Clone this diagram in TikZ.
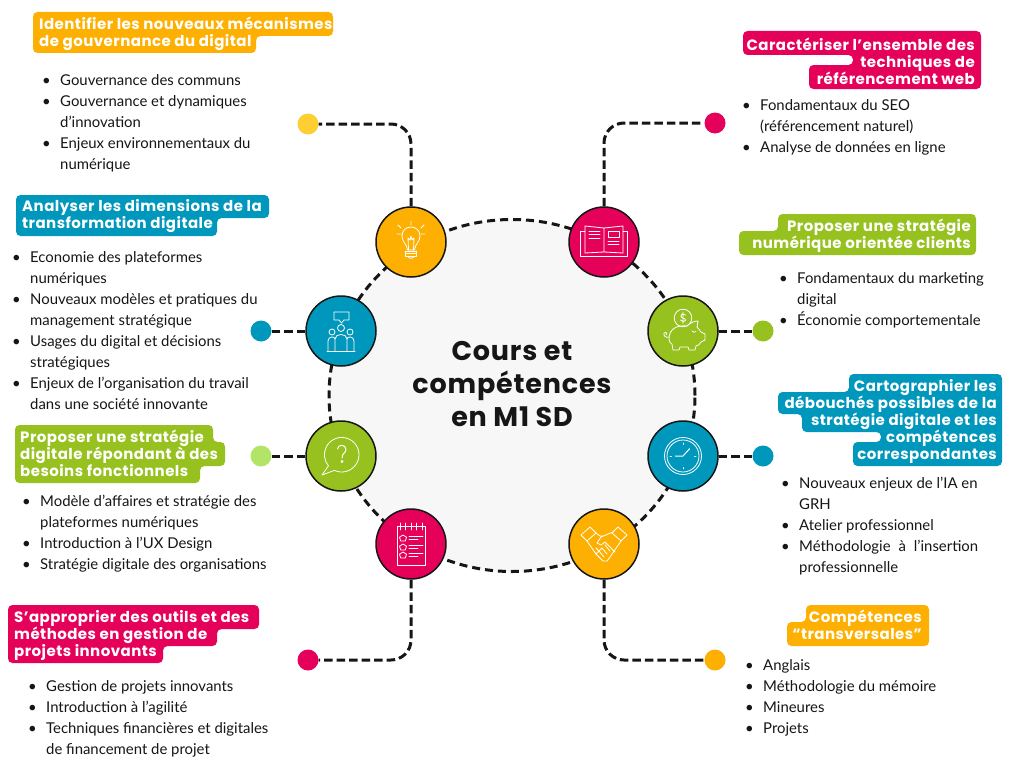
\documentclass[tikz,border=0pt]{standalone}
\usepackage{fontspec}
\setmainfont{Lato}
\newfontfamily\titrefont[LetterSpace=3]{Poppins}
\usetikzlibrary{arrows.meta,positioning,shapes.geometric,calc}
\definecolor{rose}{HTML}{E5005A}
\definecolor{jaune}{HTML}{FDB001}
\definecolor{bleu}{HTML}{0097BC}
\definecolor{vert}{HTML}{96C11F}
\definecolor{jauneclair}{HTML}{FFCE32}
\definecolor{vertclair}{HTML}{B2E468}
\definecolor{encre}{HTML}{161616}
\newcommand{\puce}{\llap{\textbullet\hspace{9.5pt}}}
\tikzset{
  ico/.style={draw=white, line width=0.8pt, fill=none, line join=round, line cap=round},
  ampoule/.pic={
    \draw[ico] (-3.5,8) .. controls (-4,2) and (-9,0) .. (-9,-6) .. controls (-9,-18) and (9,-18) .. (9,-6) .. controls (9,0) and (4,2) .. (3.5,8) -- cycle;
    \draw[ico] (-2.5,8) -- (-3,-4) -- (-1,-2) -- (0,-6) -- (1,-2) -- (3,-4) -- (2.5,8);
    \foreach \y in {9,11.5,14} \draw[ico] (-5.5,\y) -- (5.5,\y);
    \draw[ico] (-5.5,9) -- (-5.5,14) (5.5,9) -- (5.5,14) (-3,14) .. controls (-3,17) and (3,17) .. (3,14);
    \draw[ico] (0,-21) -- (0,-17) (-10,-14) -- (-13,-17) (10,-14) -- (13,-17) (-14,-8) -- (-10,-8) (14,-8) -- (10,-8);
  },
  equipe/.pic={
    \draw[ico] (-7,-19) -- (8,-19) -- (8,-11) -- (3,-11) -- (0.5,-8) -- (-2,-11) -- (-7,-11) -- cycle;
    \draw[ico] (0,-3) circle[radius=3.5] (-9,1) circle[radius=3] (9,1) circle[radius=3];
    \draw[ico] (-6,20) -- (-6,8) .. controls (-6,2) and (6,2) .. (6,8) -- (6,20);
    \draw[ico] (-13,20) -- (-13,10) .. controls (-13,5) and (-6,5) .. (-6,8) (13,20) -- (13,10) .. controls (13,5) and (6,5) .. (6,8);
    \draw[ico] (-14,20) -- (14,20);
  },
  question/.pic={
    \draw[ico] (-6.6,14.4) arc[start angle=115, end angle=-220, radius=17.3] -- (-19,19) -- cycle;
    \draw[ico, line width=1pt] (-3.5,-7) .. controls (-3.5,-12) and (5,-12) .. (5,-6.5) .. controls (5,-3) and (1,-3) .. (1,2);
    \draw[ico, line width=1pt] (1,5.5) circle[radius=1];
  },
  carnet/.pic={
    \draw[ico] (-14,-18) rectangle (14,21);
    \foreach \x in {-11,-6,0,5,11} \draw[ico] (\x,-21) -- (\x,-14);
    \foreach \y in {-6,3,11} {
      \draw[ico] (-8,\y-3) -- (-4.5,\y-0.8) -- (-5.7,\y+3) -- (-10.3,\y+3) -- (-11.5,\y-0.8) -- cycle;
      \draw[ico] (-2,\y-1.5) -- (12,\y-1.5);
      \draw[ico] (-2,\y+1.5) -- (7,\y+1.5);
    }
  },
  livre/.pic={
    \draw[ico] (-19,-11) -- (-24,-11) -- (-24,14) -- (23.5,14) -- (23.5,-11) -- (19,-11);
    \draw[ico] (0,10) -- (0,-14) -- (-19,-16) -- (-19,11) -- (0,10) -- (19,11) -- (19,-16) -- (0,-14);
    \foreach \y in {-11,-7.5,-4} \draw[ico] (-15,\y) -- (-4,\y);
    \draw[ico] (4,-11) rectangle (15,-4.5);
    \foreach \y in {-1,2} \draw[ico] (4,\y) -- (15,\y);
  },
  cochon/.pic={
    \draw[ico] (0,-13) circle[radius=8.8];
    \draw[ico] (2.5,-16) .. controls (1,-18) and (-2.5,-17) .. (-2,-14.5) .. controls (-1.5,-12.5) and (3,-13) .. (2.5,-10.5) .. controls (2,-9) and (-1.5,-9) .. (-2.5,-11) (0,-19) -- (0,-7.5);
    \draw[ico] (-14,8) .. controls (-14,-3) and (-5,-6) .. (4,-5) .. controls (7,-8) and (11,-10) .. (15,-10) -- (14,-4) .. controls (16,-2) and (17,0) .. (18,1) -- (22,3) -- (22,9) -- (18,11) .. controls (16,14) .. (13,15) -- (12,19) -- (6,19) -- (5,16) -- (-3,16) -- (-4,19) -- (-10,19) -- (-11,13) .. controls (-13,12) .. (-14,8);
    \draw[ico] (-14,6) .. controls (-17,7) and (-20,5) .. (-19,2) .. controls (-18,0) and (-15,2) .. (-17,4);
    \draw[ico] (9,0) .. controls (10,1.5) and (12,1.5) .. (13,0.5);
  },
  horloge/.pic={
    \draw[ico] (0,0) circle[radius=18.5] (0,0) circle[radius=16];
    \draw[ico] (0,-13) -- (0,-11.5) (0,13) -- (0,11.5) (-13,0) -- (-11.5,0) (13,0) -- (11.5,0);
    \draw[ico, line width=1pt] (-7.6,0) -- (0,0) -- (6.6,-7.3);
  },
  poignee/.pic={
    \draw[ico] (-23,-9) -- (-14,-17) -- (-8,-11) -- (-17,-3) -- cycle;
    \draw[ico] (23,-9) -- (14,-17) -- (8,-11) -- (17,-3) -- cycle;
    \draw[ico] (-17,-3) -- (-8,10) -- (-4,14) -- (-1,17) -- (3,17) -- (6,13) -- (17,-3);
    \draw[ico] (-8,-11) -- (-4,-8) -- (0,-8) (9,-12) -- (-3,-7) -- (-7,-1) -- (-3,1) -- (1,-2) -- (11,8);
    \draw[ico] (-8,4) -- (-5,7) -- (-2,4) (-5,7) -- (0,13) (-2,4) -- (3,10) (1,1) -- (6,7) (-8,10) -- (-5,7);
  }
}
\begin{document}
\begin{tikzpicture}[
  x=1pt,y=-1pt,
  hub/.style={draw=encre, dash pattern=on 8pt off 5pt, line width=3pt, fill=black!3, ellipse, minimum width=366pt, minimum height=352pt, inner sep=0pt},
  pastille/.style={circle, draw=encre, line width=1.5pt, minimum size=70pt, inner sep=0pt},
  point/.style={circle, minimum size=21pt, inner sep=0pt},
  lien/.style={draw=encre, line width=3pt, dash pattern=on 8.5pt off 4pt, rounded corners=20pt},
  bandeau/.style={rounded corners=4.5pt},
  titre/.style={text=white, inner sep=0pt, font=\titrefont\bfseries\fontsize{15}{17}\selectfont},
  liste/.style={text=encre, inner sep=0pt, align=left, font=\fontsize{14.9}{21}\selectfont}
]
\useasboundingbox (0,0) rectangle (1024,768);
\fill[white] (0,0) rectangle (1024,768);

% centre
\node[hub] (centre) at (512,395.5) {};
\node[text=encre, align=center, inner sep=0pt, font=\titrefont\bfseries\fontsize{27}{33}\selectfont] (cours) at (512,384.5) {Cours et\\compétences\\en M1 SD};

% pastilles
\node[pastille, fill=jaune] (idee) at (411,242) {};
\node[pastille, fill=rose] (lecture) at (604,242) {};
\node[pastille, fill=bleu] (groupe) at (341,331) {};
\node[pastille, fill=vert] (epargne) at (683,331) {};
\node[pastille, fill=vert] (aide) at (341,456) {};
\node[pastille, fill=bleu] (temps) at (683,456) {};
\node[pastille, fill=rose] (notes) at (411,544) {};
\node[pastille, fill=jaune] (accord) at (604,544) {};
\pic at (idee) {ampoule};
\pic at (lecture) {livre};
\pic at (groupe) {equipe};
\pic at (epargne) {cochon};
\pic at (aide) {question};
\pic at (temps) {horloge};
\pic at (notes) {carnet};
\pic at (accord) {poignee};

% points
\node[point, fill=jauneclair] (pidee) at (308,124) {};
\node[point, fill=rose] (plecture) at (715,123) {};
\node[point, fill=bleu] (pgroupe) at (261,331) {};
\node[point, fill=vert] (pepargne) at (763,331) {};
\node[point, fill=vertclair] (paide) at (261,456) {};
\node[point, fill=bleu] (ptemps) at (763,456) {};
\node[point, fill=rose] (pnotes) at (308,660) {};
\node[point, fill=jaune] (paccord) at (715,660) {};

\draw[lien] (idee.north) |- (pidee.east);
\draw[lien] (lecture.north) |- (plecture.west);
\draw[lien] (notes.south) |- (pnotes.east);
\draw[lien] (accord.south) |- (paccord.west);
\draw[lien] (groupe.west) -- (pgroupe.east);
\draw[lien] (epargne.east) -- (pepargne.west);
\draw[lien] (aide.west) -- (paide.east);
\draw[lien] (temps.east) -- (ptemps.west);

% bandeaux
\fill[bandeau, jaune] (33,12) -- (333,12) -- (333,36) -- (256,36) -- (256,53) -- (33,53) -- cycle;
\fill[bandeau, bleu] (16,195) -- (269,195) -- (269,218) -- (217,218) -- (217,236) -- (16,236) -- cycle;
\fill[bandeau, vert] (15,425) -- (213,425) -- (213,442) -- (225,442) -- (225,466) -- (200,466) -- (200,483) -- (15,483) -- cycle;
\fill[bandeau, rose] (8,605) -- (259,605) -- (259,629) -- (217,629) -- (217,646) -- (163,646) -- (163,663) -- (8,663) -- cycle;
\fill[bandeau, rose] (743,31) -- (981,31) -- (981,89) -- (809,89) -- (809,65) -- (853,65) -- (853,55) -- (743,55) -- cycle;
\fill[bandeau, vert] (778,214) -- (976,214) -- (976,255) -- (739,255) -- (739,231) -- (778,231) -- cycle;
\fill[bandeau, bleu] (849,374) -- (1002,374) -- (1002,466) -- (853,466) -- (853,442) -- (881,442) -- (881,432) -- (802,432) -- (802,414) -- (778,414) -- (778,392) -- (849,392) -- cycle;
\fill[bandeau, jaune] (806,605) -- (929,605) -- (929,646) -- (787,646) -- (787,622) -- (806,622) -- cycle;

% titres
\node[titre, align=left, anchor=west] (tidee) at (39,33.5) {Identifier les nouveaux mécanismes\\de gouvernance du digital};
\node[titre, align=left, anchor=west] (tgroupe) at (22,216.5) {Analyser les dimensions de la\\transformation digitale};
\node[titre, align=left, anchor=west] (taide) at (20,453.5) {Proposer une stratégie\\digitale répondant à des\\besoins fonctionnels};
\node[titre, align=left, anchor=west] (tnotes) at (14,635) {S’approprier des outils et des\\méthodes en gestion de\\projets innovants};
\node[titre, align=right, anchor=east] (tlecture) at (975,61) {Caractériser l’ensemble des\\techniques de\\référencement web};
\node[titre, align=right, anchor=east] (tepargne) at (971,235.5) {Proposer une stratégie\\numérique orientée clients};
\node[titre, align=right, anchor=east] (ttemps) at (997,421) {Cartographier les\\débouchés possibles de la\\stratégie digitale et les\\compétences\\correspondantes};
\node[titre, align=right, anchor=east] (taccord) at (922,625) {Compétences\\“transversales”};

% listes
\node[liste, anchor=west] (lidee) at (60,123) {\puce Gouvernance des communs\\\puce Gouvernance et dynamiques\\d’innovation\\\puce Enjeux environnementaux du\\numérique};
\node[liste, anchor=west] (lgroupe) at (30,330.5) {\puce Economie des plateformes\\numériques\\\puce Nouveaux modèles et pratiques du\\management stratégique\\\puce Usages du digital et décisions\\stratégiques\\\puce Enjeux de l’organisation du travail\\dans une société innovante};
\node[liste, anchor=west] (laide) at (40,533.5) {\puce Modèle d'affaires et stratégie des\\plateformes numériques\\\puce Introduction à l’UX Design\\\puce Stratégie digitale des organisations};
\node[liste, anchor=west] (lnotes) at (46,719) {\puce Gestion de projets innovants\\\puce Introduction à l’agilité\\\puce Techniques financières et digitales\\de financement de projet};
\node[liste, anchor=west] (llecture) at (760,127.5) {\puce Fondamentaux du SEO\\(référencement naturel)\\\puce Analyse de données en ligne};
\node[liste, anchor=west] (lepargne) at (797,300) {\puce Fondamentaux du marketing\\digital\\\puce Économie comportementale};
\node[liste, anchor=west] (ltemps) at (799,526) {\puce Nouveaux enjeux de l’IA en\\GRH\\\puce Atelier professionnel\\\puce \makebox[179pt][s]{Méthodologie à l’insertion}\\professionnelle};
\node[liste, anchor=west] (laccord) at (763,698) {\puce Anglais\\\puce Méthodologie du mémoire\\\puce Mineures\\\puce Projets};
\end{tikzpicture}
\end{document}
